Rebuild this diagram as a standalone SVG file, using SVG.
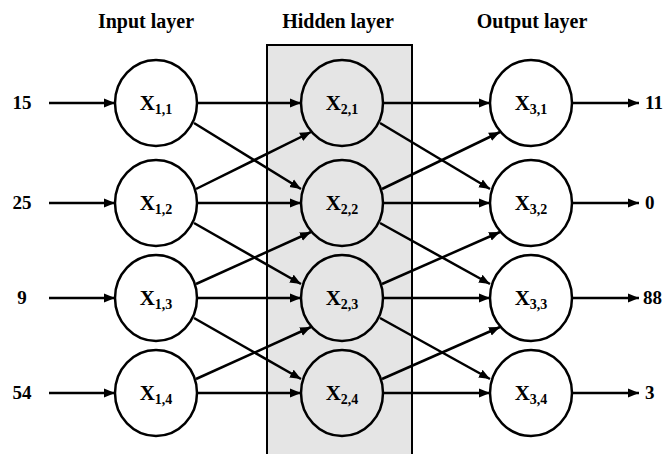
<svg xmlns="http://www.w3.org/2000/svg" width="665" height="454" viewBox="0 0 665 454">
<defs>
<marker id="ah" markerUnits="userSpaceOnUse" markerWidth="12" markerHeight="10" refX="11" refY="5" orient="auto">
<path d="M0,0.5 L11,5 L0,9.5 Z" fill="#000"/>
</marker>
</defs>
<style>
text{font-family:"Liberation Serif","Times New Roman",serif;font-weight:bold;fill:#000}
.hdr{font-size:20px;text-anchor:middle}
.val{font-size:19px}
.nl{font-size:21px;text-anchor:middle}
.sub{font-size:14px}
ellipse{stroke:#000;stroke-width:2.5}
.in ellipse,.out ellipse{fill:#fff}
.hid ellipse{fill:#e5e5e5}
#connectors line{stroke:#000;stroke-width:2.5;marker-end:url(#ah)}
</style>
<rect width="665" height="454" fill="#fff"/>
<rect id="hidden-box" x="267" y="45" width="145" height="420" fill="#e5e5e5" stroke="#000" stroke-width="2"/>
<text class="hdr" x="146" y="28">Input layer</text>
<text class="hdr" x="338" y="28">Hidden layer</text>
<text class="hdr" x="532" y="28">Output layer</text>
<g id="connectors">
<line x1="49" y1="103" x2="115" y2="103"/>
<line x1="49" y1="203" x2="115" y2="203"/>
<line x1="49" y1="298" x2="115" y2="298"/>
<line x1="49" y1="393" x2="115" y2="393"/>
<line x1="197" y1="103" x2="301" y2="103"/>
<line x1="197" y1="203" x2="301" y2="203"/>
<line x1="197" y1="298" x2="301" y2="298"/>
<line x1="197" y1="393" x2="301" y2="393"/>
<line x1="194" y1="123" x2="301" y2="189"/>
<line x1="194" y1="223" x2="301" y2="284"/>
<line x1="194" y1="318" x2="301" y2="379"/>
<line x1="196" y1="189" x2="311" y2="132"/>
<line x1="196" y1="284" x2="311" y2="232"/>
<line x1="196" y1="379" x2="311" y2="327"/>
<line x1="383" y1="103" x2="490" y2="103"/>
<line x1="383" y1="203" x2="490" y2="203"/>
<line x1="383" y1="298" x2="490" y2="298"/>
<line x1="383" y1="393" x2="490" y2="393"/>
<line x1="380" y1="123" x2="490" y2="189"/>
<line x1="380" y1="223" x2="490" y2="284"/>
<line x1="380" y1="318" x2="490" y2="379"/>
<line x1="382" y1="189" x2="500" y2="132"/>
<line x1="382" y1="284" x2="500" y2="232"/>
<line x1="382" y1="379" x2="500" y2="327"/>
<line x1="572" y1="103" x2="639" y2="103"/>
<line x1="572" y1="203" x2="639" y2="203"/>
<line x1="572" y1="298" x2="639" y2="298"/>
<line x1="572" y1="393" x2="639" y2="393"/>
</g>
<g id="inputs">
<text class="val" x="22" y="109" text-anchor="middle">15</text>
<text class="val" x="22" y="209" text-anchor="middle">25</text>
<text class="val" x="22" y="304" text-anchor="middle">9</text>
<text class="val" x="22" y="399" text-anchor="middle">54</text>
</g>
<g id="outputs">
<text class="val" x="645" y="109">11</text>
<text class="val" x="645" y="209">0</text>
<text class="val" x="643" y="304">88</text>
<text class="val" x="645" y="399">3</text>
</g>
<g id="x11" class="in"><ellipse cx="156" cy="103" rx="41" ry="43"/><text class="nl" x="156" y="110">X<tspan class="sub" dy="4">1,1</tspan></text></g>
<g id="x12" class="in"><ellipse cx="156" cy="203" rx="41" ry="43"/><text class="nl" x="156" y="210">X<tspan class="sub" dy="4">1,2</tspan></text></g>
<g id="x13" class="in"><ellipse cx="156" cy="298" rx="41" ry="43"/><text class="nl" x="156" y="305">X<tspan class="sub" dy="4">1,3</tspan></text></g>
<g id="x14" class="in"><ellipse cx="156" cy="393" rx="41" ry="43"/><text class="nl" x="156" y="400">X<tspan class="sub" dy="4">1,4</tspan></text></g>
<g id="x21" class="hid"><ellipse cx="342" cy="103" rx="41" ry="43"/><text class="nl" x="342" y="110">X<tspan class="sub" dy="4">2,1</tspan></text></g>
<g id="x22" class="hid"><ellipse cx="342" cy="203" rx="41" ry="43"/><text class="nl" x="342" y="210">X<tspan class="sub" dy="4">2,2</tspan></text></g>
<g id="x23" class="hid"><ellipse cx="342" cy="298" rx="41" ry="43"/><text class="nl" x="342" y="305">X<tspan class="sub" dy="4">2,3</tspan></text></g>
<g id="x24" class="hid"><ellipse cx="342" cy="393" rx="41" ry="43"/><text class="nl" x="342" y="400">X<tspan class="sub" dy="4">2,4</tspan></text></g>
<g id="x31" class="out"><ellipse cx="531" cy="103" rx="41" ry="43"/><text class="nl" x="531" y="110">X<tspan class="sub" dy="4">3,1</tspan></text></g>
<g id="x32" class="out"><ellipse cx="531" cy="203" rx="41" ry="43"/><text class="nl" x="531" y="210">X<tspan class="sub" dy="4">3,2</tspan></text></g>
<g id="x33" class="out"><ellipse cx="531" cy="298" rx="41" ry="43"/><text class="nl" x="531" y="305">X<tspan class="sub" dy="4">3,3</tspan></text></g>
<g id="x34" class="out"><ellipse cx="531" cy="393" rx="41" ry="43"/><text class="nl" x="531" y="400">X<tspan class="sub" dy="4">3,4</tspan></text></g>
</svg>
